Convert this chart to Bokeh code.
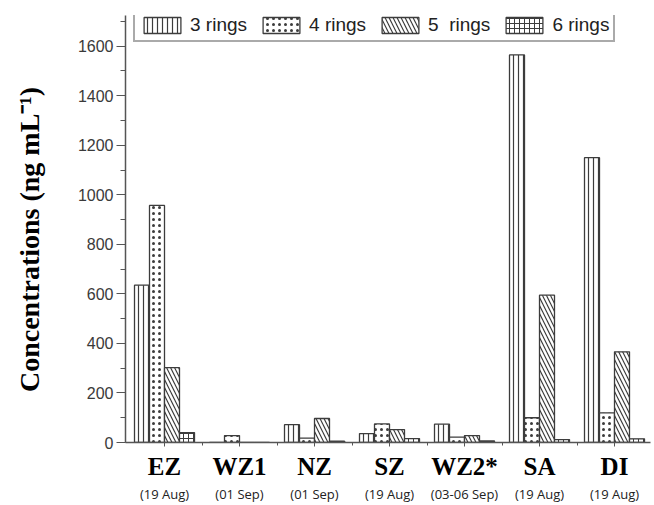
from bokeh.plotting import figure
from bokeh.models import (ColumnDataSource, FixedTicker, SingleIntervalTicker,
                          LinearAxis, Range1d, Legend, LegendItem)
from bokeh.transform import dodge
from bokeh.embed import file_html
from bokeh.resources import INLINE

# ---- data ----
sites = ["EZ", "WZ1", "NZ", "SZ", "WZ2*", "SA", "DI"]
dates = ["(19 Aug)", "(01 Sep)", "(01 Sep)", "(19 Aug)", "(03-06 Sep)", "(19 Aug)", "(19 Aug)"]
rings3 = [635, 0, 72, 36, 74, 1565, 1150]
rings4 = [957, 28, 18, 75, 22, 100, 120]
rings5 = [302, 0, 97, 52, 28, 595, 366]
rings6 = [40, 0, 5, 16, 6, 12, 15]
series_labels = ["3 rings", "4 rings", "5  rings", "6 rings"]

src = ColumnDataSource(dict(x=list(range(len(sites))), r3=rings3, r4=rings4, r5=rings5, r6=rings6))

p = figure(width=654, height=505, output_backend="svg", toolbar_location=None,
           x_range=Range1d(-0.52, 6.48), y_range=Range1d(0, 1724),
           min_border_left=125, min_border_right=4, min_border_top=15, min_border_bottom=62)
p.outline_line_color = None
p.xgrid.visible = False
p.ygrid.visible = False
p.background_fill_color = "white"

edge = "#3c3c3c"
specs = [
    ("r3", -0.3, "|", 5, 1.2),
    ("r4", -0.1, ".", 6, 1.6),
    ("r5", 0.1, "\\", 8, 1.2),
    ("r6", 0.3, "+", 5, 1.0),
]
renderers = []
for col, off, pat, sc, wt in specs:
    r = p.vbar(x=dodge("x", off), top=col, width=0.2, bottom=0, source=src,
               fill_color="white", line_color=edge, line_width=1.3,
               hatch_pattern=pat, hatch_color=edge, hatch_scale=sc, hatch_weight=wt)
    renderers.append(r)

legend = Legend(items=[LegendItem(label=l, renderers=[r]) for l, r in zip(series_labels, renderers)],
                orientation="horizontal", location=(8, 400),
                glyph_width=46, glyph_height=20, label_standoff=5, spacing=11,
                padding=4, margin=0, border_line_color="#555555", border_line_width=2,
                label_text_font="Liberation Sans", label_text_font_size="19px",
                label_text_color="#222222", background_fill_alpha=1)
p.add_layout(legend)

# y axis
ya = p.yaxis[0]
ya.ticker = SingleIntervalTicker(interval=200, num_minor_ticks=2)
ya.axis_label = "Concentrations (ng mL\u207b\u00b9)\u00a0\u00a0\u00a0"
ya.axis_label_text_font = "Liberation Serif"
ya.axis_label_text_font_style = "bold"
ya.axis_label_text_font_size = "28px"
ya.axis_label_text_color = "black"
ya.axis_label_standoff = 30
ya.major_label_text_font = "Liberation Sans"
ya.major_label_text_font_size = "16px"
ya.major_label_text_color = "#3a3a3a"
ya.major_label_standoff = 3
ya.major_tick_out = 9
ya.major_tick_in = 0
ya.minor_tick_out = 5
ya.minor_tick_in = 0
ya.axis_line_color = "#555555"
ya.axis_line_width = 1.5
ya.major_tick_line_color = "#555555"
ya.minor_tick_line_color = "#555555"

# x axis (site names)
ticker = FixedTicker(ticks=list(range(len(sites))), minor_ticks=[i + 0.5 for i in range(len(sites) - 1)])
xa = p.xaxis[0]
xa.ticker = ticker
xa.major_label_overrides = {i: s for i, s in enumerate(sites)}
xa.major_label_text_font = "Liberation Serif"
xa.major_label_text_font_style = "bold"
xa.major_label_text_font_size = "25px"
xa.major_label_text_color = "black"
xa.major_label_standoff = 6
xa.major_tick_out = 4
xa.major_tick_in = 0
xa.minor_tick_out = 3
xa.minor_tick_in = 0
xa.axis_line_color = "#555555"
xa.axis_line_width = 1.5
xa.major_tick_line_color = "#555555"
xa.minor_tick_line_color = "#555555"

# second x axis (dates)
xa2 = LinearAxis(ticker=FixedTicker(ticks=list(range(len(sites)))))
xa2.major_label_overrides = {i: d for i, d in enumerate(dates)}
xa2.major_label_text_font = "Open Sans"
xa2.major_label_text_font_size = "13px"
xa2.major_label_text_color = "#222222"
xa2.major_label_standoff = 2
xa2.axis_line_color = None
xa2.major_tick_line_color = None
xa2.minor_tick_line_color = None
xa2.major_tick_out = 0
xa2.major_tick_in = 0
p.add_layout(xa2, "below")

open("out.html", "w").write(file_html(p, INLINE))
